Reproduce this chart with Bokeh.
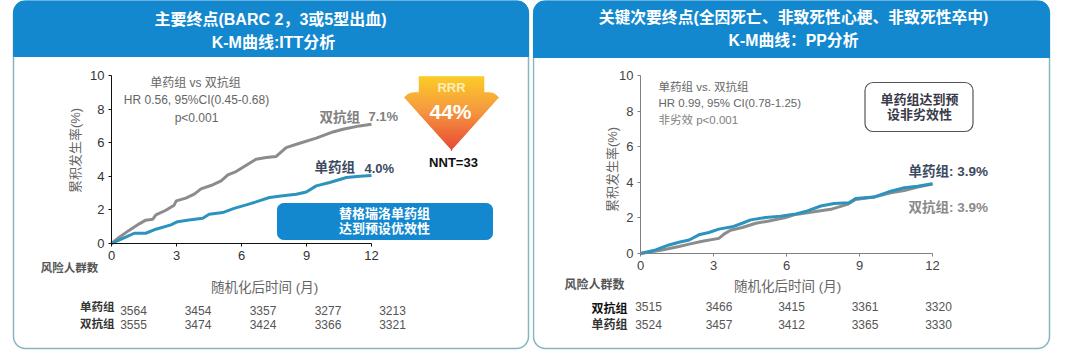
from bokeh.plotting import figure
from bokeh.layouts import row
from bokeh.models import Label, BoxAnnotation, PolyAnnotation, Range1d, FixedTicker
from bokeh.embed import file_html
from bokeh.resources import INLINE

months = [0, 3, 6, 9, 12]
y_ticks = [0, 2, 4, 6, 8, 10]

left_dual_t = [0, .36, .81, 1.28, 1.58, 1.90, 2.05, 2.51, 2.89, 2.99, 3.43, 3.82, 4.13, 4.59, 5.06, 5.37, 5.75, 6.22, 6.67, 7.14, 7.60, 8.06, 8.68, 9.45, 10.22, 10.68, 11.45, 12]
left_dual_v = [0, .37, .78, 1.17, 1.39, 1.44, 1.70, 1.98, 2.28, 2.54, 2.70, 2.94, 3.25, 3.45, 3.73, 4.08, 4.28, 4.66, 5.02, 5.12, 5.18, 5.71, 5.97, 6.27, 6.64, 6.80, 7.0, 7.1]
left_mono_t = [0, .50, 1.05, 1.58, 2.05, 2.74, 3.05, 3.58, 4.21, 4.51, 5.13, 5.66, 6.22, 6.67, 7.29, 7.91, 8.53, 8.99, 9.45, 10.07, 10.84, 11.45, 12]
left_mono_v = [0, .29, .61, .61, .85, 1.11, 1.30, 1.40, 1.50, 1.74, 1.84, 2.09, 2.30, 2.48, 2.74, 2.84, 2.93, 3.07, 3.43, 3.63, 3.93, 4.0, 4.05]

right_mono_t = [0, .62, 1.17, 1.58, 2.0, 2.40, 2.81, 3.22, 3.77, 4.18, 4.53, 5.15, 5.76, 6.31, 6.86, 7.41, 7.95, 8.57, 8.84, 9.6, 10.28, 10.84, 11.39, 12]
right_mono_v = [0, .2, .48, .63, .76, 1.05, 1.18, 1.37, 1.5, 1.7, 1.89, 2.02, 2.1, 2.2, 2.39, 2.67, 2.81, 2.85, 3.09, 3.17, 3.5, 3.69, 3.78, 3.92]
right_dual_t = [0, .89, 1.58, 2.05, 2.54, 3.22, 3.43, 3.70, 4.18, 4.74, 5.28, 5.96, 6.31, 7.13, 7.82, 8.5, 8.84, 9.6, 10.28, 10.84, 11.39, 12]
right_dual_v = [0, .2, .39, .54, .69, .85, 1.09, 1.31, 1.46, 1.7, 1.83, 2.02, 2.17, 2.35, 2.48, 2.76, 3.04, 3.17, 3.41, 3.54, 3.74, 3.9]

left_risk_mono = ["3564", "3454", "3357", "3277", "3213"]
left_risk_dual = ["3555", "3474", "3424", "3366", "3321"]
right_risk_dual = ["3515", "3466", "3415", "3361", "3320"]
right_risk_mono = ["3524", "3457", "3412", "3365", "3330"]

FONT = "Liberation Sans, Noto Sans CJK SC"
BLUE = "#1488cf"
BORDER = "#86b4c0"
GREY_LINE = "#8c8c8c"
BLUE_LINE = "#2b93bd"


def base(w, h, x0, x12, y0, y10, axis_color, tick_color):
    ppx = (x12 - x0) / 12
    ppy = (y0 - y10) / 10
    p = figure(width=w, height=h, output_backend="svg", toolbar_location=None,
               x_range=Range1d(-x0 / ppx, (w - x0) / ppx),
               y_range=Range1d(-(h - y0) / ppy, y0 / ppy),
               min_border=0, outline_line_color=None,
               background_fill_color="white", border_fill_color="white")
    p.grid.visible = False
    p.xaxis.ticker = FixedTicker(ticks=months)
    p.yaxis.ticker = FixedTicker(ticks=y_ticks)
    p.xaxis.fixed_location = 0
    p.yaxis.fixed_location = 0
    p.xaxis.bounds = (0, 12)
    p.yaxis.bounds = (0, 10)
    for ax in (p.xaxis[0], p.yaxis[0]):
        ax.axis_line_color = axis_color
        ax.major_tick_line_color = axis_color
        ax.minor_tick_line_color = None
        ax.major_tick_in = 0
        ax.major_tick_out = 3
        ax.major_label_text_font = FONT
        ax.major_label_text_font_size = "13px"
        ax.major_label_text_color = tick_color
        ax.major_label_standoff = 4
    return p


def box(p, x0, x1, y0, y1, fill, fill_alpha, line, width, radius, level="annotation"):
    p.add_layout(BoxAnnotation(left=x0, right=x1, top=y0, bottom=y1,
                               left_units="canvas", right_units="canvas", top_units="canvas", bottom_units="canvas",
                               fill_color=fill, fill_alpha=fill_alpha, line_color=line, line_alpha=1,
                               line_width=width, border_radius=radius, level=level))


def panel(p, x0, x1, y1, hb):
    box(p, x0, x1, 1, y1, "white", 0, BORDER, 1.5, 12, "underlay")
    box(p, x0, x1, 0, hb, BLUE, 1, BLUE, 1, (12, 12, 0, 0))


def lab(p, text, x, y, size=12, color="#666666", bold=False, align="center", angle=0):
    p.add_layout(Label(x=x, y=y, x_units="canvas", y_units="canvas", text=text,
                       text_font=FONT, text_font_size=f"{size}px", text_color=color,
                       text_font_style="bold" if bold else "normal",
                       text_align=align, text_baseline="middle", angle=angle))


# ---------- left ----------
L = base(532, 352, 111, 371, 243, 75, "#111111", "#333333")
panel(L, 13, 528, 348, 56)
L.line(left_dual_t, left_dual_v, line_color=GREY_LINE, line_width=3)
L.line(left_mono_t, left_mono_v, line_color=BLUE_LINE, line_width=3)

lab(L, "主要终点(BARC 2，3或5型出血)", 270, 19, 16, "white", True)
lab(L, "K-M曲线:ITT分析", 273, 42, 16, "white", True)
lab(L, "单药组 vs 双抗组", 195, 82, 12)
lab(L, "HR 0.56, 95%CI(0.45-0.68)", 196, 99, 12)
lab(L, "p<0.001", 196, 117, 12)
lab(L, "双抗组", 319, 117, 13.5, "#808080", True, "left")
lab(L, "7.1%", 368, 116, 13, "#808080", True, "left")
lab(L, "单药组", 314, 167, 13.5, "#3b4a60", True, "left")
lab(L, "4.0%", 364, 168, 13, "#3b4a60", True, "left")


# gradient arrow
def mix(a, b, f):
    return "#%02x%02x%02x" % tuple(round(a[i] + (b[i] - a[i]) * f) for i in range(3))


TOP, MID, BOT = (252, 200, 25), (245, 150, 50), (230, 60, 42)


def half_width(y):
    if y < 92:
        return 32.5
    if y < 97:
        return 38 + 9 * ((y - 92) / 5) ** .5
    if y < 146:
        return 47 - (y - 97) * 44 / 49
    return max(3 - (y - 146), 0.5)


for yy in range(76, 150):
    f = (yy - 76) / 74
    c = mix(TOP, MID, f / .42) if f < .42 else mix(MID, BOT, (f - .42) / .58)
    h0, h1 = half_width(yy), half_width(yy + 1)
    if yy == 91:
        h1 = h0
    L.add_layout(PolyAnnotation(xs=[451 - h0, 451 + h0, 451 + h1, 451 - h1], ys=[yy, yy, yy + 1, yy + 1],
                                xs_units="canvas", ys_units="canvas",
                                fill_color=c, fill_alpha=1, line_color=c, line_alpha=1, line_width=0.5))
lab(L, "RRR", 451, 87, 13, "#fdeeb8", True)
lab(L, "44%", 450, 111, 21, "white", True)
lab(L, "NNT=33", 453, 162, 13, "#111111", True)

box(L, 277, 492, 203, 239, BLUE, 1, BLUE, 1, 6)
lab(L, "替格瑞洛单药组", 384, 213, 13, "white", True)
lab(L, "达到预设优效性", 384, 228, 13, "white", True)

lab(L, "累积发生率(%)", 75, 150, 13, angle=1.5708)
lab(L, "风险人群数", 69, 267, 11.5, "#555555", True)
lab(L, "随机化后时间 (月)", 264, 286.5, 13.5)
lab(L, "单药组", 114, 306.5, 11.5, "#333333", True, "right")
lab(L, "双抗组", 114, 323.5, 11.5, "#333333", True, "right")
for cx, a, b in zip([133, 197.5, 262.5, 327.5, 392], left_risk_mono, left_risk_dual):
    lab(L, a, cx, 310, 12, "#555555")
    lab(L, b, cx, 323.5, 12, "#555555")

# ---------- right ----------
OFF = 532
R = base(533, 352, 640 - OFF, 932 - OFF, 253, 75, "#808080", "#444444")
panel(R, 533 - OFF, 1049 - OFF, 348, 57)
R.line(right_dual_t, right_dual_v, line_color=GREY_LINE, line_width=3)
R.line(right_mono_t, right_mono_v, line_color=BLUE_LINE, line_width=3)

lab(R, "关键次要终点(全因死亡、非致死性心梗、非致死性卒中)", 793 - OFF, 17, 15.8, "white", True)
lab(R, "K-M曲线：PP分析", 793 - OFF, 40, 15.8, "white", True)
lab(R, "单药组 vs. 双抗组", 658 - OFF, 86, 11.5, align="left")
lab(R, "HR 0.99, 95% CI(0.78-1.25)", 658 - OFF, 102, 11.5, align="left")
lab(R, "非劣效 p<0.001", 658 - OFF, 119, 11.5, "#808080", align="left")
box(R, 864.5 - OFF, 972.5 - OFF, 82, 131, "white", 1, "#555555", 1.2, 8)
lab(R, "单药组达到预", 919 - OFF, 98.5, 13, "#3a3a4a", True)
lab(R, "设非劣效性", 919 - OFF, 114, 13, "#3a3a4a", True)
lab(R, "单药组: 3.9%", 908 - OFF, 171, 13.5, "#3b4a60", True, "left")
lab(R, "双抗组: 3.9%", 908 - OFF, 207, 13.5, "#8a8a8a", True, "left")
lab(R, "累积发生率(%)", 612 - OFF, 169, 13, angle=1.5708)
lab(R, "风险人群数", 594 - OFF, 284, 12, "#555555", True)
lab(R, "随机化后时间 (月)", 787 - OFF, 285.5, 13.5)
lab(R, "双抗组", 627 - OFF, 308, 12, "#111111", True, "right")
lab(R, "单药组", 627 - OFF, 324.5, 12, "#333333", True, "right")
for cx, a, b in zip([648, 718.5, 791, 864.5, 938], right_risk_dual, right_risk_mono):
    lab(R, a, cx - OFF, 306, 12, "#555555")
    lab(R, b, cx - OFF, 323.5, 12, "#555555")

page = row(L, R, spacing=0)
open("out.html", "w").write(file_html(page, INLINE))
